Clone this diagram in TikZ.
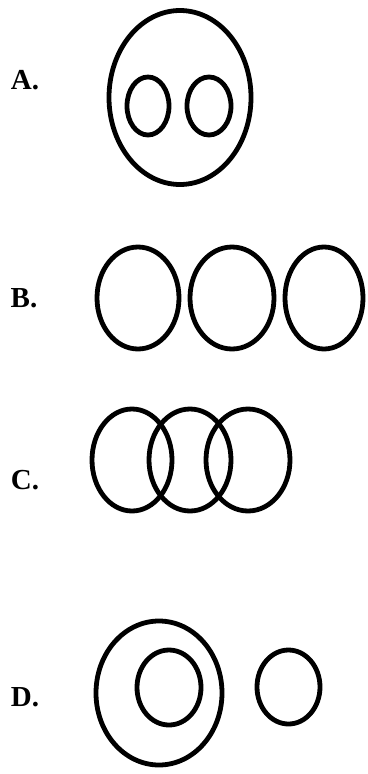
\documentclass[tikz,border=0pt]{standalone}
\usepackage{fontspec}
\setmainfont{Liberation Serif}
\usetikzlibrary{shapes.geometric}
\begin{document}
\begin{tikzpicture}[x=1pt,y=-1pt,
  ring/.style={draw=black,line width=4.8pt,ellipse,inner sep=0pt,minimum width=#1},
  lbl/.style={font=\fontsize{29}{32}\selectfont\bfseries,inner sep=0pt}]
\useasboundingbox (0,0) rectangle (367,774);
% A
\node[lbl] (la) at (25,80) {A.};
\node[ring=142pt,minimum height=174pt] (a0) at (180,97.5) {};
\node[ring=42pt,minimum height=58pt] (a1) at (148,106) {};
\node[ring=44pt,minimum height=58pt] (a2) at (209,106) {};
% B
\node[lbl] (lb) at (24,298) {B.};
\node[ring=82pt,minimum height=102pt] (b1) at (138,298) {};
\node[ring=84pt,minimum height=102pt] (b2) at (232,298) {};
\node[ring=78pt,minimum height=102pt] (b3) at (324,298) {};
% C
\node[lbl] (lc) at (25,480) {C.};
\node[ring=80pt,minimum height=102pt] (c1) at (132,460) {};
\node[ring=82pt,minimum height=102pt] (c2) at (190,460) {};
\node[ring=84pt,minimum height=102pt] (c3) at (248,460) {};
% D
\node[lbl] (ld) at (25,697) {D.};
\node[ring=126pt,minimum height=144pt] (d0) at (159,693) {};
\node[ring=64pt,minimum height=75pt] (d1) at (169,687.5) {};
\node[ring=63pt,minimum height=74pt] (d2) at (288.5,687) {};
\end{tikzpicture}
\end{document}
